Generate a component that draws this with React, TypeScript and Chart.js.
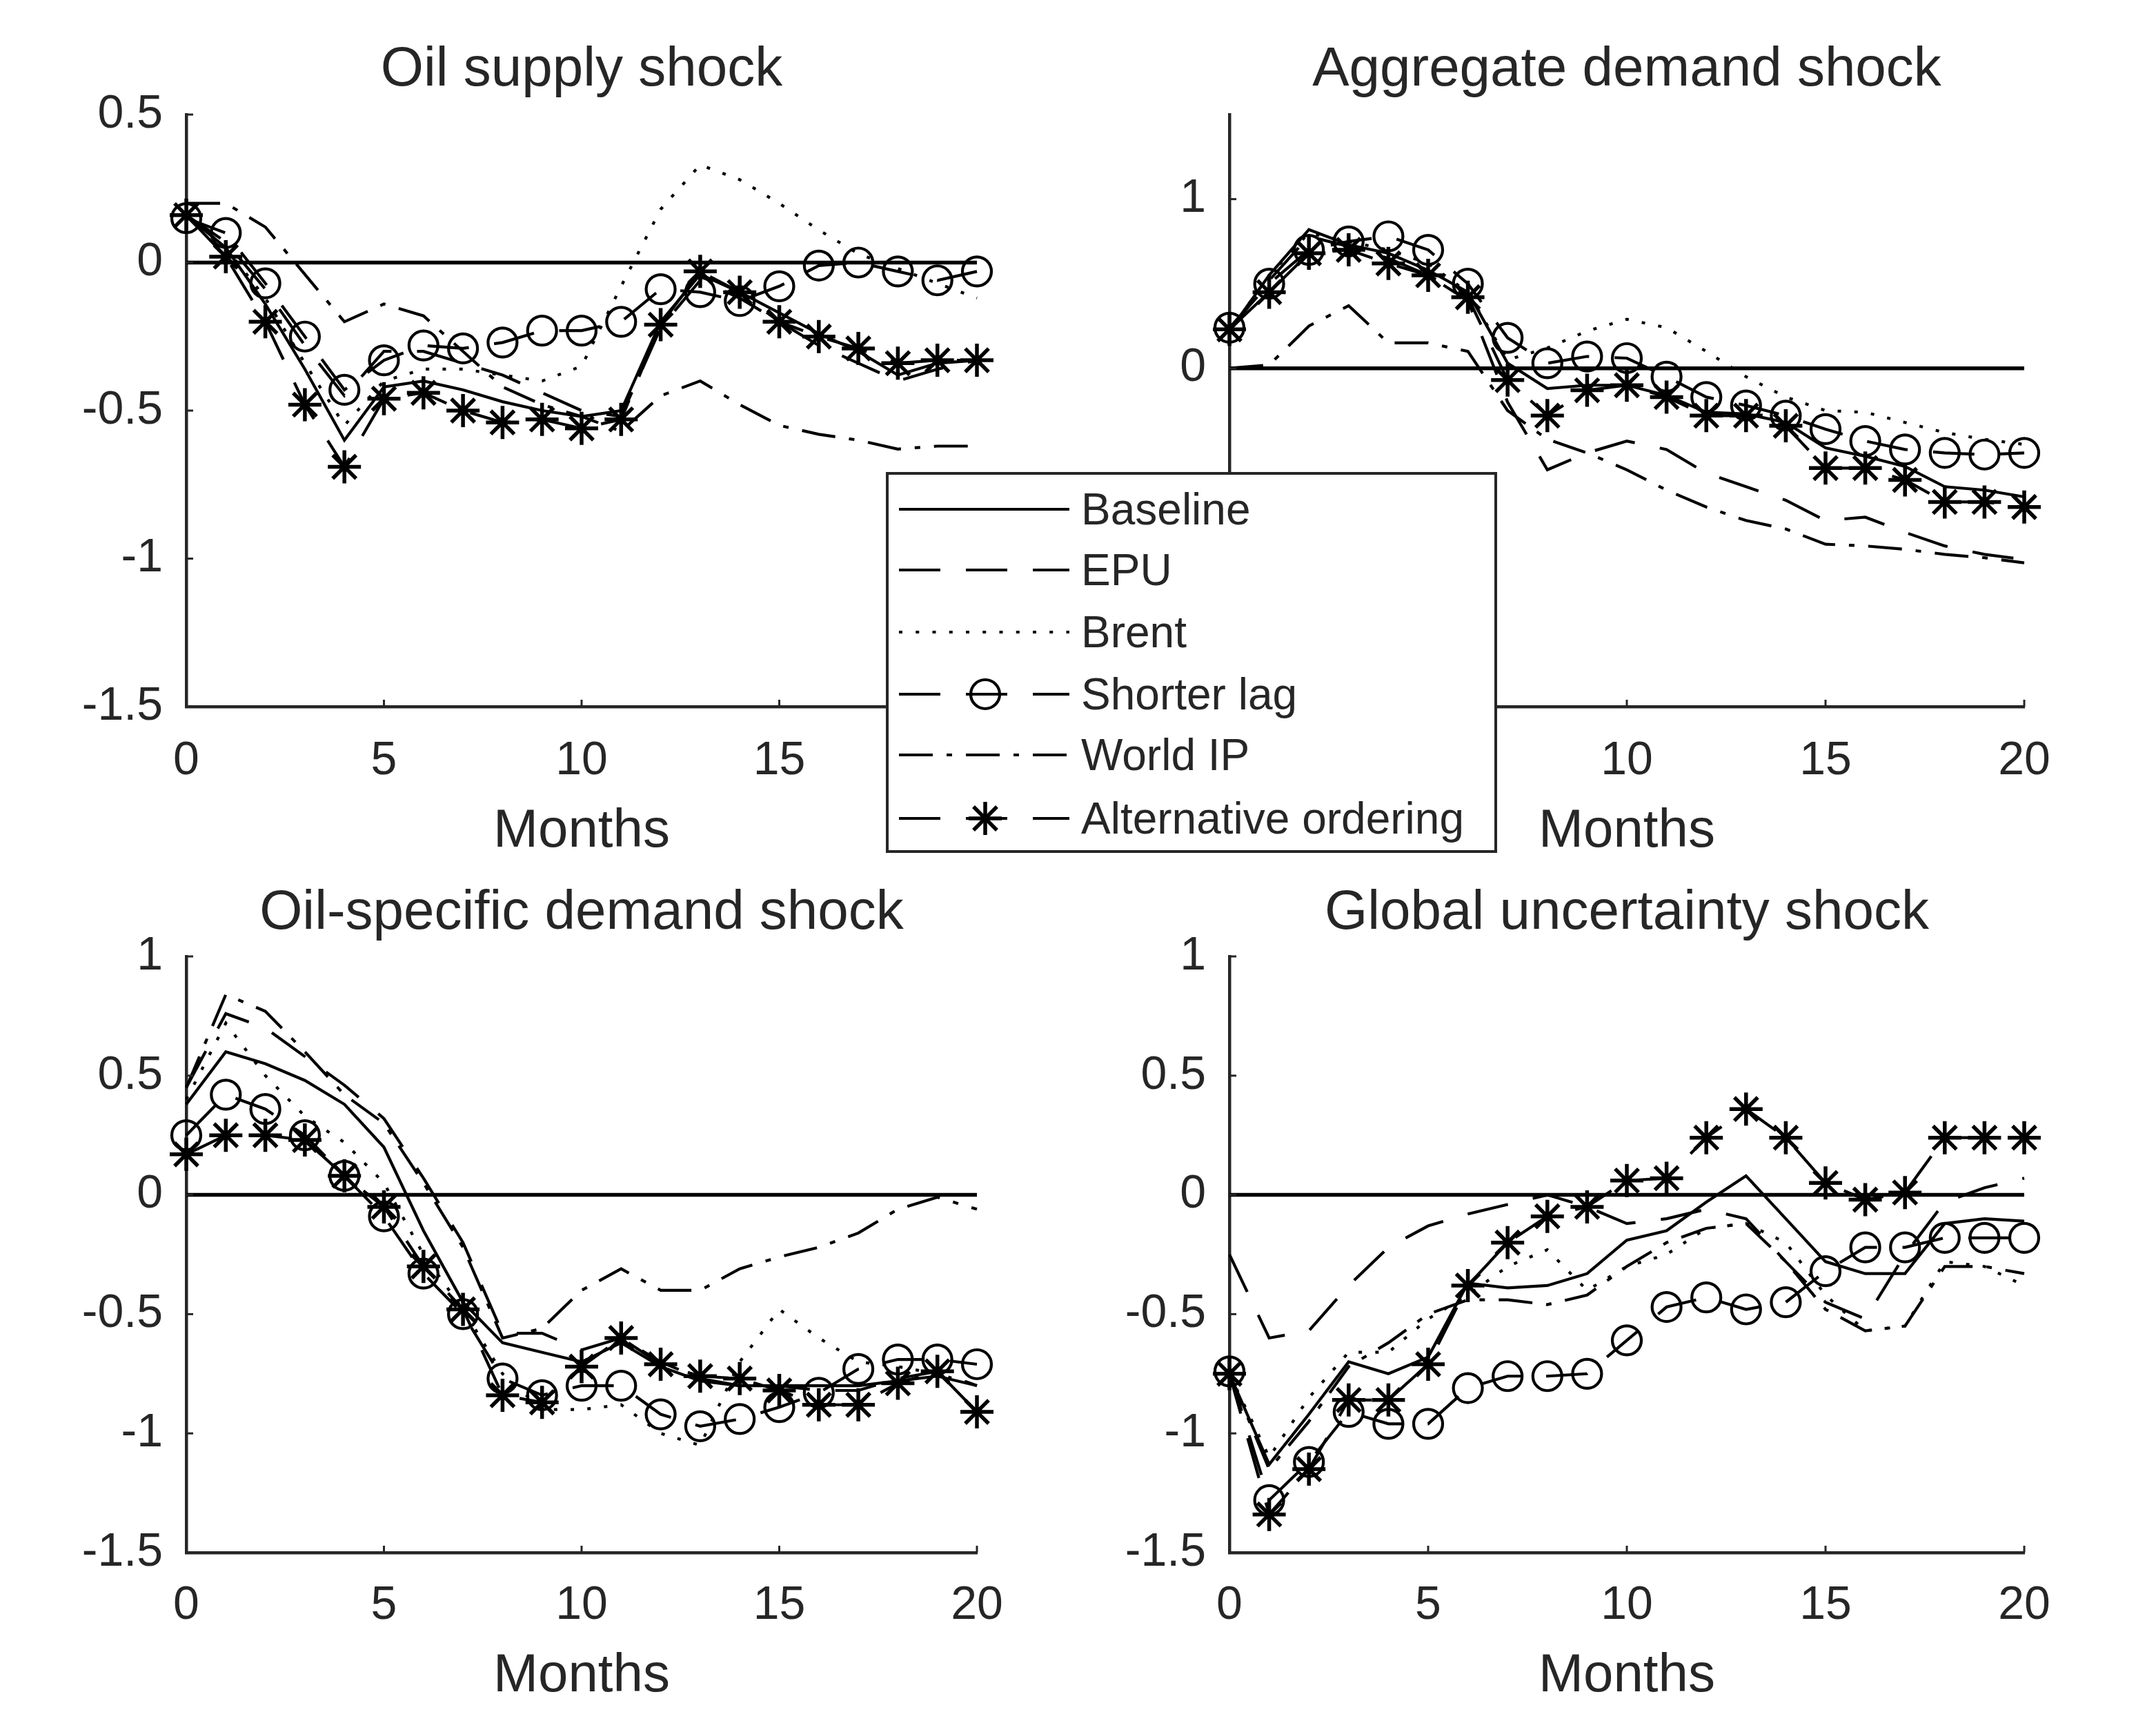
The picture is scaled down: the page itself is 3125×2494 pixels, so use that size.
import React, { useEffect, useRef } from "react";
import { Chart, registerables } from "chart.js";

Chart.register(...registerables);

// ---------------- data ----------------
const months = [0, 1, 2, 3, 4, 5, 6, 7, 8, 9, 10, 11, 12, 13, 14, 15, 16, 17, 18, 19, 20];
const seriesNames = ["Baseline", "EPU", "Brent", "Shorter lag", "World IP", "Alternative ordering"];
const panelTitles = ["Oil supply shock", "Aggregate demand shock", "Oil-specific demand shock", "Global uncertainty shock"];
const xAxisLabel = "Months";
const xTicks = [0, 5, 10, 15, 20];
const yTicksOilSupply = [-1.5, -1, -0.5, 0, 0.5];
const yTicksAggDemand = [-2, -1, 0, 1];
const yTicksOilSpecific = [-1.5, -1, -0.5, 0, 0.5, 1];
const yTicksUncertainty = [-1.5, -1, -0.5, 0, 0.5, 1];

// Oil supply shock
const osBaseline = [0.16, 0.05, -0.14, -0.36, -0.6, -0.42, -0.4, -0.43, -0.47, -0.5, -0.52, -0.5, -0.2, -0.04, -0.1, -0.17, -0.24, -0.3, -0.38, -0.34, -0.33];
const osEPU = [0.16, 0.07, -0.09, -0.28, -0.45, -0.3, -0.3, -0.34, -0.38, -0.44, -0.5, -0.52, -0.22, -0.06, -0.12, -0.2, -0.28, -0.34, -0.4, -0.36, -0.33];
const osBrent = [0.16, 0.05, -0.12, -0.34, -0.55, -0.4, -0.36, -0.36, -0.38, -0.4, -0.35, -0.08, 0.18, 0.33, 0.28, 0.2, 0.11, 0.03, -0.02, -0.07, -0.12];
const osShorterLag = [0.15, 0.1, -0.07, -0.25, -0.43, -0.33, -0.28, -0.29, -0.27, -0.23, -0.23, -0.2, -0.09, -0.1, -0.13, -0.08, -0.01, 0, -0.03, -0.06, -0.03];
const osWorldIP = [0.2, 0.2, 0.12, -0.04, -0.2, -0.14, -0.18, -0.3, -0.42, -0.48, -0.52, -0.57, -0.45, -0.4, -0.48, -0.55, -0.58, -0.6, -0.63, -0.62, -0.62];
const osAltOrdering = [0.16, 0.02, -0.2, -0.48, -0.69, -0.46, -0.44, -0.5, -0.54, -0.53, -0.56, -0.53, -0.21, -0.03, -0.1, -0.2, -0.25, -0.29, -0.34, -0.33, -0.33];

// Aggregate demand shock
const adBaseline = [0.22, 0.55, 0.82, 0.73, 0.68, 0.58, 0.45, 0.03, -0.12, -0.1, -0.1, -0.16, -0.26, -0.27, -0.32, -0.47, -0.52, -0.58, -0.7, -0.72, -0.76];
const adEPU = [0.22, 0.52, 0.78, 0.72, 0.65, 0.55, 0.4, -0.2, -0.6, -0.5, -0.43, -0.48, -0.62, -0.7, -0.78, -0.9, -0.88, -0.97, -1.05, -1.1, -1.13];
const adBrent = [0.22, 0.55, 0.8, 0.75, 0.7, 0.62, 0.45, 0.05, 0.12, 0.22, 0.29, 0.24, 0.1, -0.05, -0.17, -0.25, -0.26, -0.32, -0.38, -0.42, -0.45];
const adShorterLag = [0.24, 0.5, 0.7, 0.75, 0.78, 0.7, 0.5, 0.18, 0.03, 0.07, 0.06, -0.05, -0.17, -0.22, -0.28, -0.36, -0.43, -0.48, -0.5, -0.51, -0.5];
const adWorldIP = [0.0, 0.02, 0.25, 0.37, 0.15, 0.15, 0.1, -0.25, -0.42, -0.5, -0.6, -0.72, -0.82, -0.9, -0.95, -1.04, -1.05, -1.07, -1.1, -1.12, -1.15];
const adAltOrdering = [0.23, 0.45, 0.68, 0.7, 0.62, 0.55, 0.42, -0.07, -0.28, -0.13, -0.1, -0.17, -0.28, -0.28, -0.34, -0.59, -0.59, -0.66, -0.79, -0.79, -0.82];

// Oil-specific demand shock
const odBaseline = [0.38, 0.6, 0.55, 0.48, 0.38, 0.2, -0.15, -0.45, -0.62, -0.66, -0.7, -0.62, -0.72, -0.78, -0.8, -0.8, -0.8, -0.8, -0.78, -0.76, -0.8];
const odEPU = [0.45, 0.76, 0.7, 0.58, 0.46, 0.32, 0.07, -0.2, -0.58, -0.58, -0.65, -0.6, -0.7, -0.77, -0.8, -0.8, -0.82, -0.82, -0.77, -0.74, -0.8];
const odBrent = [0.4, 0.72, 0.5, 0.33, 0.22, 0.05, -0.25, -0.48, -0.75, -0.9, -0.9, -0.88, -1.0, -1.05, -0.7, -0.48, -0.6, -0.7, -0.72, -0.75, -0.8];
const odShorterLag = [0.25, 0.42, 0.36, 0.25, 0.08, -0.09, -0.33, -0.5, -0.77, -0.84, -0.8, -0.8, -0.92, -0.97, -0.94, -0.89, -0.83, -0.73, -0.69, -0.69, -0.71];
const odWorldIP = [0.45, 0.84, 0.77, 0.6, 0.42, 0.3, 0.05, -0.22, -0.6, -0.56, -0.4, -0.31, -0.4, -0.4, -0.31, -0.26, -0.22, -0.16, -0.06, -0.01, -0.06];
const odAltOrdering = [0.17, 0.25, 0.25, 0.23, 0.08, -0.05, -0.3, -0.48, -0.84, -0.87, -0.72, -0.6, -0.71, -0.76, -0.77, -0.82, -0.88, -0.88, -0.79, -0.74, -0.91];

// Global uncertainty shock
const guBaseline = [-0.75, -1.13, -0.92, -0.7, -0.75, -0.68, -0.37, -0.39, -0.38, -0.33, -0.19, -0.15, -0.03, 0.08, -0.1, -0.28, -0.33, -0.33, -0.12, -0.1, -0.11];
const guEPU = [-0.25, -0.6, -0.57, -0.38, -0.22, -0.13, -0.08, -0.04, 0.0, -0.05, -0.12, -0.1, -0.06, -0.1, -0.28, -0.45, -0.52, -0.25, -0.03, 0.03, 0.07];
const guBrent = [-0.75, -1.1, -0.85, -0.66, -0.66, -0.52, -0.42, -0.3, -0.23, -0.4, -0.3, -0.25, -0.14, -0.12, -0.2, -0.42, -0.57, -0.55, -0.28, -0.3, -0.38];
const guShorterLag = [-0.74, -1.28, -1.12, -0.91, -0.96, -0.96, -0.81, -0.76, -0.76, -0.75, -0.61, -0.47, -0.43, -0.48, -0.45, -0.32, -0.22, -0.22, -0.18, -0.18, -0.18];
const guWorldIP = [-0.75, -1.15, -0.95, -0.72, -0.62, -0.5, -0.44, -0.44, -0.46, -0.42, -0.3, -0.2, -0.14, -0.12, -0.28, -0.48, -0.57, -0.55, -0.3, -0.3, -0.33];
const guAltOrdering = [-0.75, -1.34, -1.15, -0.86, -0.86, -0.71, -0.38, -0.2, -0.09, -0.05, 0.06, 0.07, 0.24, 0.36, 0.24, 0.05, -0.02, 0.01, 0.24, 0.24, 0.24];

// ---------------- styles ----------------
const FONT = "'Liberation Sans', Arial, Helvetica, sans-serif";
const TEXT = "#262626";
const LW = 4.2;
const MW = 4.5;
const DASH = [60, 37];
const DASHDOT = [49, 20, 8, 20];
const DOT = [5, 19.25];

type SeriesStyle = { dash: number[]; marker: string | false; radius: number; mw: number };
const seriesStyles: SeriesStyle[] = [
  { dash: [], marker: false, radius: 0, mw: MW },
  { dash: DASH, marker: false, radius: 0, mw: MW },
  { dash: DOT, marker: false, radius: 0, mw: MW },
  { dash: DASH, marker: "circle", radius: 21, mw: 4.2 },
  { dash: DASHDOT, marker: false, radius: 0, mw: MW },
  { dash: DASH, marker: "star", radius: 24, mw: 5.5 },
];

type Panel = {
  title: string;
  series: number[][];
  yMin: number;
  yMax: number;
  yTicks: number[];
  left: number;
  top: number;
  width: number;
  height: number;
  yAxisW: number;
  padRight: number;
  titlePadTop: number;
  titlePadBottom: number;
  xAxisH: number;
  xTickPad: number;
  xTitlePadBottom: number;
};

const panels: Panel[] = [
  {
    title: panelTitles[0],
    series: [osBaseline, osEPU, osBrent, osShorterLag, osWorldIP, osAltOrdering],
    yMin: -1.5, yMax: 0.5, yTicks: yTicksOilSupply,
    left: 0, top: 0, width: 1560, height: 1252,
    yAxisW: 270, padRight: 144,
    titlePadTop: 54, titlePadBottom: 16,
    xAxisH: 228, xTickPad: 38, xTitlePadBottom: 0,
  },
  {
    title: panelTitles[1],
    series: [adBaseline, adEPU, adBrent, adShorterLag, adWorldIP, adAltOrdering],
    yMin: -2, yMax: 1.5, yTicks: yTicksAggDemand,
    left: 1560, top: 0, width: 1565, height: 1252,
    yAxisW: 222, padRight: 191,
    titlePadTop: 54, titlePadBottom: 16,
    xAxisH: 228, xTickPad: 38, xTitlePadBottom: 0,
  },
  {
    title: panelTitles[2],
    series: [odBaseline, odEPU, odBrent, odShorterLag, odWorldIP, odAltOrdering],
    yMin: -1.5, yMax: 1, yTicks: yTicksOilSpecific,
    left: 0, top: 1252, width: 1560, height: 1242,
    yAxisW: 270, padRight: 144,
    titlePadTop: 24, titlePadBottom: 14,
    xAxisH: 244, xTickPad: 36, xTitlePadBottom: 18,
  },
  {
    title: panelTitles[3],
    series: [guBaseline, guEPU, guBrent, guShorterLag, guWorldIP, guAltOrdering],
    yMin: -1.5, yMax: 1, yTicks: yTicksUncertainty,
    left: 1560, top: 1252, width: 1565, height: 1242,
    yAxisW: 222, padRight: 191,
    titlePadTop: 24, titlePadBottom: 14,
    xAxisH: 244, xTickPad: 36, xTitlePadBottom: 18,
  },
];

const insideTicks = {
  id: "insideTicks",
  afterDatasetsDraw(chart: any) {
    const { ctx, chartArea, scales } = chart;
    ctx.save();
    ctx.strokeStyle = TEXT;
    ctx.lineWidth = 3;
    scales.x.ticks.forEach((t: any) => {
      const px = scales.x.getPixelForValue(t.value);
      ctx.beginPath();
      ctx.moveTo(px, chartArea.bottom);
      ctx.lineTo(px, chartArea.bottom - 10);
      ctx.stroke();
    });
    scales.y.ticks.forEach((t: any) => {
      const py = scales.y.getPixelForValue(t.value);
      ctx.beginPath();
      ctx.moveTo(chartArea.left, py);
      ctx.lineTo(chartArea.left + 10, py);
      ctx.stroke();
    });
    ctx.restore();
  },
};

function fmt(v: number) {
  const n = Math.round(v * 10) / 10;
  return String(n);
}

function PanelChart({ p }: { p: Panel }) {
  const ref = useRef<HTMLCanvasElement | null>(null);
  useEffect(() => {
    if (!ref.current) return;
    const datasets: any[] = p.series.map((vals, i) => {
      const st = seriesStyles[i];
      return {
        label: seriesNames[i],
        data: months.map((m, k) => ({ x: m, y: vals[k] })),
        borderColor: "#000000",
        backgroundColor: "rgba(0,0,0,0)",
        borderWidth: LW,
        borderDash: st.dash,
        pointStyle: st.marker || "circle",
        pointRadius: st.marker ? st.radius : 0,
        pointBorderWidth: st.mw,
        pointBorderColor: "#000000",
        pointBackgroundColor: "rgba(0,0,0,0)",
        tension: 0,
        clip: false,
        order: 6 - i,
      };
    });
    datasets.push({
      label: "zero",
      data: [{ x: xTicks[0], y: 0 }, { x: xTicks[xTicks.length - 1], y: 0 }],
      borderColor: "#000000",
      borderWidth: 5.5,
      pointRadius: 0,
      clip: false,
      order: 20,
    });
    const chart = new Chart(ref.current, {
      type: "line",
      data: { datasets },
      plugins: [insideTicks],
      options: {
        animation: false,
        responsive: false,
        devicePixelRatio: 1,
        events: [],
        layout: { padding: { left: 0, right: p.padRight, top: 0, bottom: 0 } },
        plugins: {
          legend: { display: false },
          tooltip: { enabled: false },
          title: {
            display: true,
            text: p.title,
            fullSize: false,
            color: TEXT,
            font: { family: FONT, size: 80, weight: "normal" },
            padding: { top: p.titlePadTop, bottom: p.titlePadBottom },
          },
        },
        scales: {
          x: {
            type: "linear",
            min: 0,
            max: 20,
            afterBuildTicks: (s: any) => {
              s.ticks = xTicks.map((v) => ({ value: v }));
            },
            afterFit: (s: any) => {
              s.height = p.xAxisH;
            },
            ticks: {
              color: TEXT,
              font: { family: FONT, size: 68 },
              padding: p.xTickPad,
              maxRotation: 0,
              autoSkip: false,
              callback: (v: any) => fmt(Number(v)),
            },
            grid: { display: false, drawTicks: false },
            border: { display: true, color: TEXT, width: 4.5 },
            title: {
              display: true,
              text: xAxisLabel,
              color: TEXT,
              font: { family: FONT, size: 78 },
              padding: { top: 0, bottom: p.xTitlePadBottom },
            },
          },
          y: {
            type: "linear",
            min: p.yMin,
            max: p.yMax,
            afterBuildTicks: (s: any) => {
              s.ticks = p.yTicks.map((v) => ({ value: v }));
            },
            afterFit: (s: any) => {
              s.width = p.yAxisW;
            },
            ticks: {
              color: TEXT,
              font: { family: FONT, size: 68 },
              padding: 34,
              autoSkip: false,
              callback: (v: any) => fmt(Number(v)),
            },
            grid: { display: false, drawTicks: false },
            border: { display: true, color: TEXT, width: 4.5 },
          },
        },
      } as any,
    });
    return () => chart.destroy();
  }, [p]);
  return (
    <canvas
      ref={ref}
      width={p.width}
      height={p.height}
      style={{ position: "absolute", left: p.left, top: p.top, width: p.width, height: p.height }}
    />
  );
}

function LegendSample({ i, y }: { i: number; y: number }) {
  const st = seriesStyles[i];
  const x0 = 19;
  const x1 = 266;
  const cx = 144;
  const r = st.radius;
  const spokes = [0, 45, 90, 135];
  return (
    <g>
      <line
        x1={x0}
        y1={y}
        x2={x1}
        y2={y}
        stroke="#000"
        strokeWidth={LW}
        strokeDasharray={st.dash.length ? st.dash.join(" ") : undefined}
      />
      {st.marker === "circle" && <circle cx={cx} cy={y} r={r} fill="none" stroke="#000" strokeWidth={st.mw} />}
      {st.marker === "star" &&
        spokes.map((a) => {
          const rad = (a * Math.PI) / 180;
          return (
            <line
              key={a}
              x1={cx - r * Math.cos(rad)}
              y1={y - r * Math.sin(rad)}
              x2={cx + r * Math.cos(rad)}
              y2={y + r * Math.sin(rad)}
              stroke="#000"
              strokeWidth={st.mw}
            />
          );
        })}
    </g>
  );
}

function Legend() {
  const rows = [54, 142, 232, 322, 410, 502];
  return (
    <svg
      width={886}
      height={552}
      style={{ position: "absolute", left: 1284, top: 684, zIndex: 5 }}
    >
      <rect x={2} y={2} width={882} height={548} fill="#ffffff" stroke={TEXT} strokeWidth={4} />
      {seriesNames.map((name, i) => (
        <g key={name}>
          <LegendSample i={i} y={rows[i]} />
          <text
            x={283}
            y={rows[i]}
            dominantBaseline="central"
            fontFamily={FONT}
            fontSize={64}
            fill={TEXT}
          >
            {name}
          </text>
        </g>
      ))}
    </svg>
  );
}

export default function App() {
  return (
    <div
      style={{
        position: "absolute",
        left: 0,
        top: 0,
        width: 3125,
        height: 2494,
        background: "#ffffff",
        overflow: "hidden",
      }}
    >
      {panels.map((p) => (
        <PanelChart key={p.title} p={p} />
      ))}
      <Legend />
    </div>
  );
}
